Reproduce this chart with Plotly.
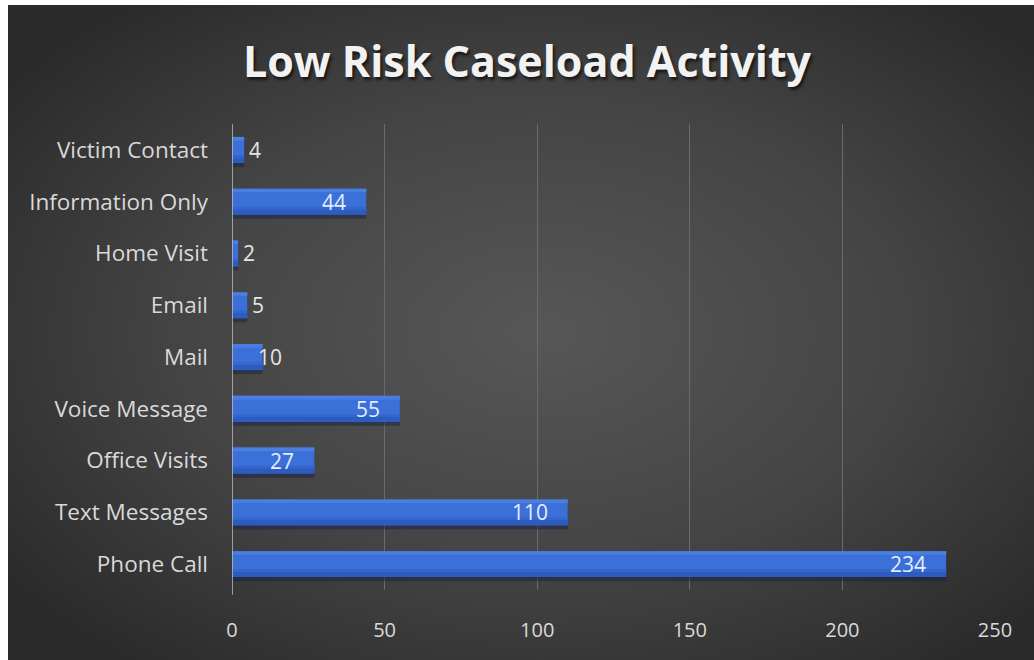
import base64
import plotly.graph_objects as go

categories = ["Phone Call", "Text Messages", "Office Visits", "Voice Message", "Mail",
              "Email", "Home Visit", "Information Only", "Victim Contact"]
values = [234, 110, 27, 55, 10, 5, 2, 44, 4]
x_ticks = [0, 50, 100, 150, 200, 250]
title_text = "Low Risk Caseload Activity"

# figure placed at page offset (8, 5) via body margin
W, H = 1026, 655
L, R, T, B = 224, 39, 119, 70
FONT = "Open Sans"

svg = f'''<svg xmlns="http://www.w3.org/2000/svg" width="{W}" height="{H}" viewBox="0 0 {W} {H}">
<defs><radialGradient id="g" cx="0.52" cy="0.5" r="0.65" gradientUnits="objectBoundingBox">
<stop offset="0" stop-color="#575757"/><stop offset="0.55" stop-color="#444444"/><stop offset="1" stop-color="#2a2a2a"/>
</radialGradient></defs><rect width="100%" height="100%" fill="url(#g)"/></svg>'''
src = "data:image/svg+xml;base64," + base64.b64encode(svg.encode()).decode()

pw, ph = W - L - R, H - T - B

fig = go.Figure()
bar_layers = [
    # (offset, width, color)
    (-0.33, 0.5, "rgba(18,28,70,0.45)"),   # soft shadow below
    (-0.25, 0.5, "#3b70d8"),               # body
    (-0.25, 0.10, "#2c5cc0"),              # darker bottom band
    (-0.15, 0.05, "#3466cc"),
    (0.18, 0.07, "#4a7fe0"),               # lighter top band
]
for off, wd, col in bar_layers:
    fig.add_trace(go.Bar(
        y=categories, x=values, orientation="h",
        offset=off, width=wd,
        marker=dict(color=col, line=dict(width=0)),
        hoverinfo="skip" if col.startswith("rgba") else None,
    ))

annotations = []
for cat, v in zip(categories, values):
    if v >= 20:
        annotations.append(dict(x=v, y=cat, xref="x", yref="y", text=str(v),
                                showarrow=False, xanchor="right", xshift=-18,
                                font=dict(color="#e3edff", size=21, family=FONT)))
    else:
        annotations.append(dict(x=v, y=cat, xref="x", yref="y", text=str(v),
                                showarrow=False, xanchor="left",
                                xshift=(-7 if v >= 10 else 3),
                                font=dict(color="#e6e6e6", size=21, family=FONT)))

fig.update_layout(
    width=W, height=H,
    margin=dict(l=L, r=R, t=T, b=B),
    paper_bgcolor="#3c3c3c", plot_bgcolor="rgba(0,0,0,0)",
    barmode="overlay", showlegend=False,
    font=dict(family=FONT, color="#d9d9d9"),
    title=dict(text=f"<b>{title_text}</b>", x=519 / W, xanchor="center",
               y=1 - 57 / H, yanchor="middle",
               font=dict(size=43, color="#f2f2f2", family=FONT,
                         shadow="2px 3px 3px rgba(0,0,0,0.6)")),
    images=[dict(source=src, xref="paper", yref="paper",
                 x=-L / pw, y=(H - B) / ph,
                 sizex=W / pw, sizey=H / ph,
                 xanchor="left", yanchor="top", sizing="stretch", layer="below")],
    annotations=annotations,
    xaxis=dict(range=[0, 250], tickvals=x_ticks, showgrid=True, gridcolor="#6b6b6b",
               gridwidth=1, zeroline=False, showline=False, ticks="",
               tickfont=dict(size=20, color="#d9d9d9"), ticklabelstandoff=26),
    yaxis=dict(showgrid=False, zeroline=False, showline=False, ticks="",
               tickfont=dict(size=22.5, color="#d9d9d9"), ticklabelstandoff=23),
    shapes=[dict(type="line", xref="x", yref="paper", x0=0, x1=0, y0=-0.01, y1=1,
                 line=dict(color="#bfbfbf", width=1.5))],
)

fig.write_html("out.html", post_script="document.body.style.margin='5px 0 0 8px';")
